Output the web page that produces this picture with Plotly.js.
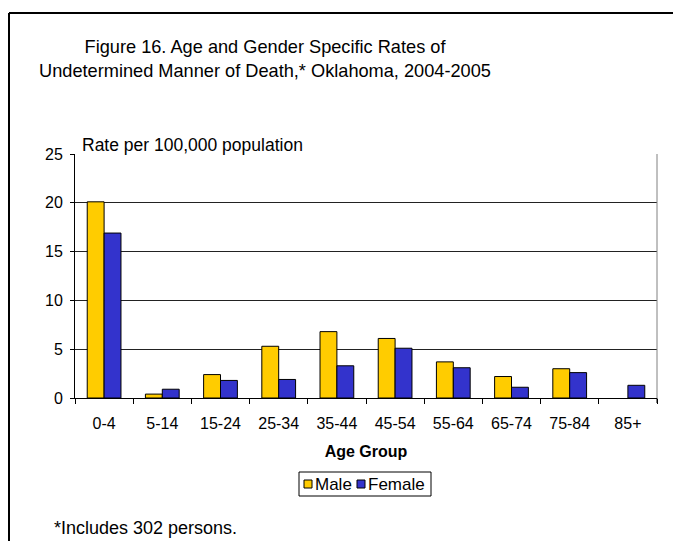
<!DOCTYPE html>
<html>
<head>
<meta charset="utf-8">
<script src="https://cdn.plot.ly/plotly-3.0.1.min.js"></script>
<style>
html,body{margin:0;padding:0;background:#fff;}
#chart{width:673px;height:541px;}
</style>
</head>
<body>
<div id="chart"></div>
<script>
const ageGroups = ["0-4","5-14","15-24","25-34","35-44","45-54","55-64","65-74","75-84","85+"];
const maleRates = [20.1, 0.4, 2.4, 5.3, 6.8, 6.1, 3.7, 2.2, 3.0, null];
const femaleRates = [16.9, 0.9, 1.8, 1.9, 3.3, 5.1, 3.1, 1.1, 2.6, 1.3];
const yTicks = [0, 5, 10, 15, 20, 25];
const seriesNames = ["Male", "Female"];
const seriesColors = ["#FFCC00", "#3333CC"];

const FONT = "Liberation Sans, Arial, sans-serif";

const traces = [
  {type:"bar", name:seriesNames[0], x:ageGroups, y:maleRates, showlegend:false,
   marker:{color:seriesColors[0], line:{color:"#000", width:1}}},
  {type:"bar", name:seriesNames[1], x:ageGroups, y:femaleRates, showlegend:false,
   marker:{color:seriesColors[1], line:{color:"#000", width:1}}}
];

const L = 75, R = 16, T = 154, B = 143;
const W = 673, H = 541;
const pw = W - L - R, ph = H - T - B;
function px(x){ return (x - L) / pw; }
function py(y){ return (H - B - y) / ph; }

// manual legend (box + swatches + labels)
const legendShapes = [
  {type:"rect", xref:"paper", yref:"paper", x0:px(299), x1:px(431), y0:py(472), y1:py(496),
   line:{color:"#000", width:1}, fillcolor:"#fff"},
  {type:"rect", xref:"paper", yref:"paper", x0:px(304), x1:px(312), y0:py(480), y1:py(488),
   line:{color:"#000", width:1}, fillcolor:seriesColors[0]},
  {type:"rect", xref:"paper", yref:"paper", x0:px(357), x1:px(365), y0:py(480), y1:py(488),
   line:{color:"#000", width:1}, fillcolor:seriesColors[1]}
];
const legendTexts = [
  {text:seriesNames[0], xref:"paper", yref:"paper", x:px(313), y:py(484.5), xanchor:"left", yanchor:"middle",
   showarrow:false, font:{family:FONT, size:17}},
  {text:seriesNames[1], xref:"paper", yref:"paper", x:px(366), y:py(484.5), xanchor:"left", yanchor:"middle",
   showarrow:false, font:{family:FONT, size:17}}
];

const layout = {
  width: W, height: H,
  margin: {l:L, r:R, t:T, b:B, pad:0},
  paper_bgcolor: "#fff", plot_bgcolor: "#fff",
  font: {family: FONT, color: "#000", size: 16},
  showlegend: false,
  barmode: "group", bargap: 0.42, bargroupgap: 0,
  title: {
    text: "Figure 16. Age and Gender Specific Rates of<br>Undetermined Manner of Death,* Oklahoma, 2004-2005",
    font: {family: FONT, size: 18.2, color: "#000"},
    x: 265/W, xanchor: "center", y: 1 - 53/H, yanchor: "middle"
  },
  xaxis: {
    type: "category",
    tickson: "boundaries", ticks: "outside", ticklen: 5, tickcolor: "#000",
    ticklabelstandoff: 11,
    showline: true, linecolor: "#000", linewidth: 1,
    showgrid: false,
    tickfont: {family: FONT, size: 16},
    title: {text: "<b>Age Group</b>", font: {family: FONT, size: 16}, standoff: 14}
  },
  yaxis: {
    range: [0, 25], tickvals: yTicks, ticktext: yTicks.map(String),
    ticks: "outside", ticklen: 4, tickcolor: "#000",
    ticklabelstandoff: 4,
    showline: true, linecolor: "#000", linewidth: 1,
    showgrid: true, gridcolor: "#222", gridwidth: 1,
    zeroline: false,
    tickfont: {family: FONT, size: 16}
  },
  shapes: [
    {type:"line", xref:"paper", yref:"paper", x0:1, x1:1, y0:0, y1:1, line:{color:"#808080", width:1}},
    {type:"line", xref:"paper", yref:"paper", x0:1, x1:1, y0:py(403), y1:0, line:{color:"#000", width:1}},
    {type:"line", xref:"paper", yref:"paper", x0:px(9), x1:px(9), y0:py(13), y1:py(560), line:{color:"#000", width:2}},
    {type:"line", xref:"paper", yref:"paper", x0:px(9), x1:px(700), y0:py(13), y1:py(13), line:{color:"#000", width:2}}
  ].concat(legendShapes),
  annotations: [
    {text:"Rate per 100,000 population", xref:"paper", yref:"paper", x:px(80), y:py(145),
     xanchor:"left", yanchor:"middle", showarrow:false, font:{family:FONT, size:17.5}},
    {text:"*Includes 302 persons.", xref:"paper", yref:"paper", x:px(52), y:py(528),
     xanchor:"left", yanchor:"middle", showarrow:false, font:{family:FONT, size:18}}
  ].concat(legendTexts)
};

Plotly.newPlot("chart", traces, layout, {displayModeBar:false, staticPlot:true});
</script>
</body>
</html>
